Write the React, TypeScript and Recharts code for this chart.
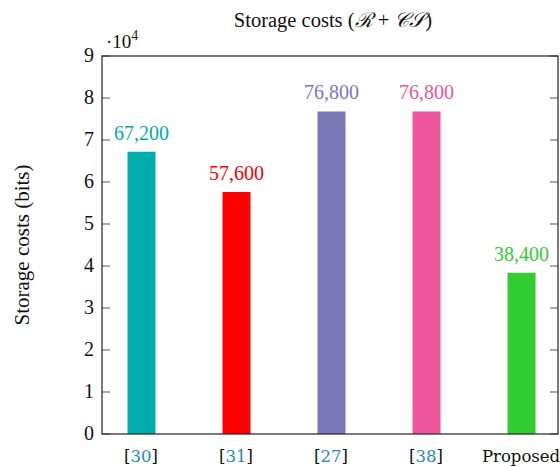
import React from 'react'
import { BarChart, Bar, XAxis, YAxis, Cell, LabelList } from 'recharts'

const categories = ['30', '31', '27', '38', 'Proposed']
const costs = [67200, 57600, 76800, 76800, 38400]
const barColors = ['#00ADAD', '#FF0000', '#7B78B8', '#F0569D', '#33CC33']
const yTicks = [0, 10000, 20000, 30000, 40000, 50000, 60000, 70000, 80000, 90000]

const data = categories.map((c, i) => ({ idx: i, name: c, cost: costs[i] }))

const X_DOMAIN: [number, number] = [-0.4105, 4.389]
const serif = "'Liberation Serif', 'Times New Roman', serif"
const labelFont = "'DejaVu Serif', serif"
const citeBlue = '#1E8CB0'

// plot box (margin.left + YAxis width, width - margin.right, margin.top, height - bottom - XAxis height)
const PLOT_LEFT = 102
const PLOT_RIGHT = 558
const PLOT_TOP = 56
const PLOT_BOTTOM = 434
const TICK_LEN = 8

function YTick(props: any) {
  const { y, payload } = props
  return (
    <g>
      <line x1={PLOT_LEFT} x2={PLOT_LEFT + TICK_LEN} y1={y} y2={y} stroke="#555" strokeWidth={1} />
      <line x1={PLOT_RIGHT - TICK_LEN} x2={PLOT_RIGHT} y1={y} y2={y} stroke="#555" strokeWidth={1} />
      <text x={PLOT_LEFT - 8} y={y} dy={6} textAnchor="end" style={{ fontFamily: serif }} fontSize={20} fill="#111">
        {payload.value / 10000}
      </text>
    </g>
  )
}

function CatTick(props: any) {
  const { x, y, payload } = props
  const name = categories[payload.value]
  if (name === 'Proposed') {
    return (
      <text x={x} y={y + 26} textAnchor="middle" style={{ fontFamily: labelFont }} fontSize={16.5} fill="#111">
        Proposed
      </text>
    )
  }
  return (
    <text x={x} y={y + 26} textAnchor="middle" style={{ fontFamily: labelFont }} fontSize={16.5} fill="#111">
      [<tspan fill={citeBlue}>{name}</tspan>]
    </text>
  )
}

function ValueLabel(props: any) {
  const { x, y, width, value, index } = props
  return (
    <text x={x + width / 2} y={y - 12} textAnchor="middle" style={{ fontFamily: serif }} fontSize={20} fill={barColors[index]}>
      {Number(value).toLocaleString('en-US')}
    </text>
  )
}

export default function App() {
  return (
    <div style={{ position: 'absolute', left: 0, top: 0, width: 560, height: 467 }}>
      <BarChart width={560} height={467} data={data} margin={{ top: 56, right: 2, bottom: 3, left: 62 }}>
        <XAxis
          type="number"
          dataKey="idx"
          domain={X_DOMAIN}
          ticks={[0, 1, 2, 3, 4]}
          allowDataOverflow
          height={30}
          tickLine={false}
          tickSize={0}
          tick={<CatTick />}
          axisLine={false}
        />
        <YAxis
          domain={[0, 90000]}
          ticks={yTicks}
          width={40}
          tickSize={0}
          tickMargin={0}
          tickLine={false}
          tick={<YTick />}
          axisLine={false}
          interval={0}
        />
        <Bar dataKey="cost" barSize={28} isAnimationActive={false}>
          {data.map((_, i) => (
            <Cell key={i} fill={barColors[i]} />
          ))}
          <LabelList dataKey="cost" content={<ValueLabel />} />
        </Bar>
      </BarChart>
      <svg width={560} height={467} style={{ position: 'absolute', left: 0, top: 0, pointerEvents: 'none' }}>
        <rect
          x={PLOT_LEFT}
          y={PLOT_TOP}
          width={PLOT_RIGHT - PLOT_LEFT}
          height={PLOT_BOTTOM - PLOT_TOP}
          fill="none"
          stroke="#222"
          strokeWidth={1.2}
        />
        <text x={333} y={27} textAnchor="middle" style={{ fontFamily: serif }} fontSize={20.5} fill="#111">
          Storage costs (<tspan fontStyle="italic">ℛ</tspan> + <tspan fontStyle="italic">𝒞𝒮</tspan>)
        </text>
        <text x={106} y={48} style={{ fontFamily: serif }} fontSize={19} fill="#111">
          ·10<tspan dy={-8} fontSize={14}>4</tspan>
        </text>
        <text
          x={29}
          y={245}
          transform="rotate(-90 29 245)"
          textAnchor="middle"
          style={{ fontFamily: serif }}
          fontSize={21}
          fill="#111"
        >
          Storage costs (bits)
        </text>
      </svg>
    </div>
  )
}
